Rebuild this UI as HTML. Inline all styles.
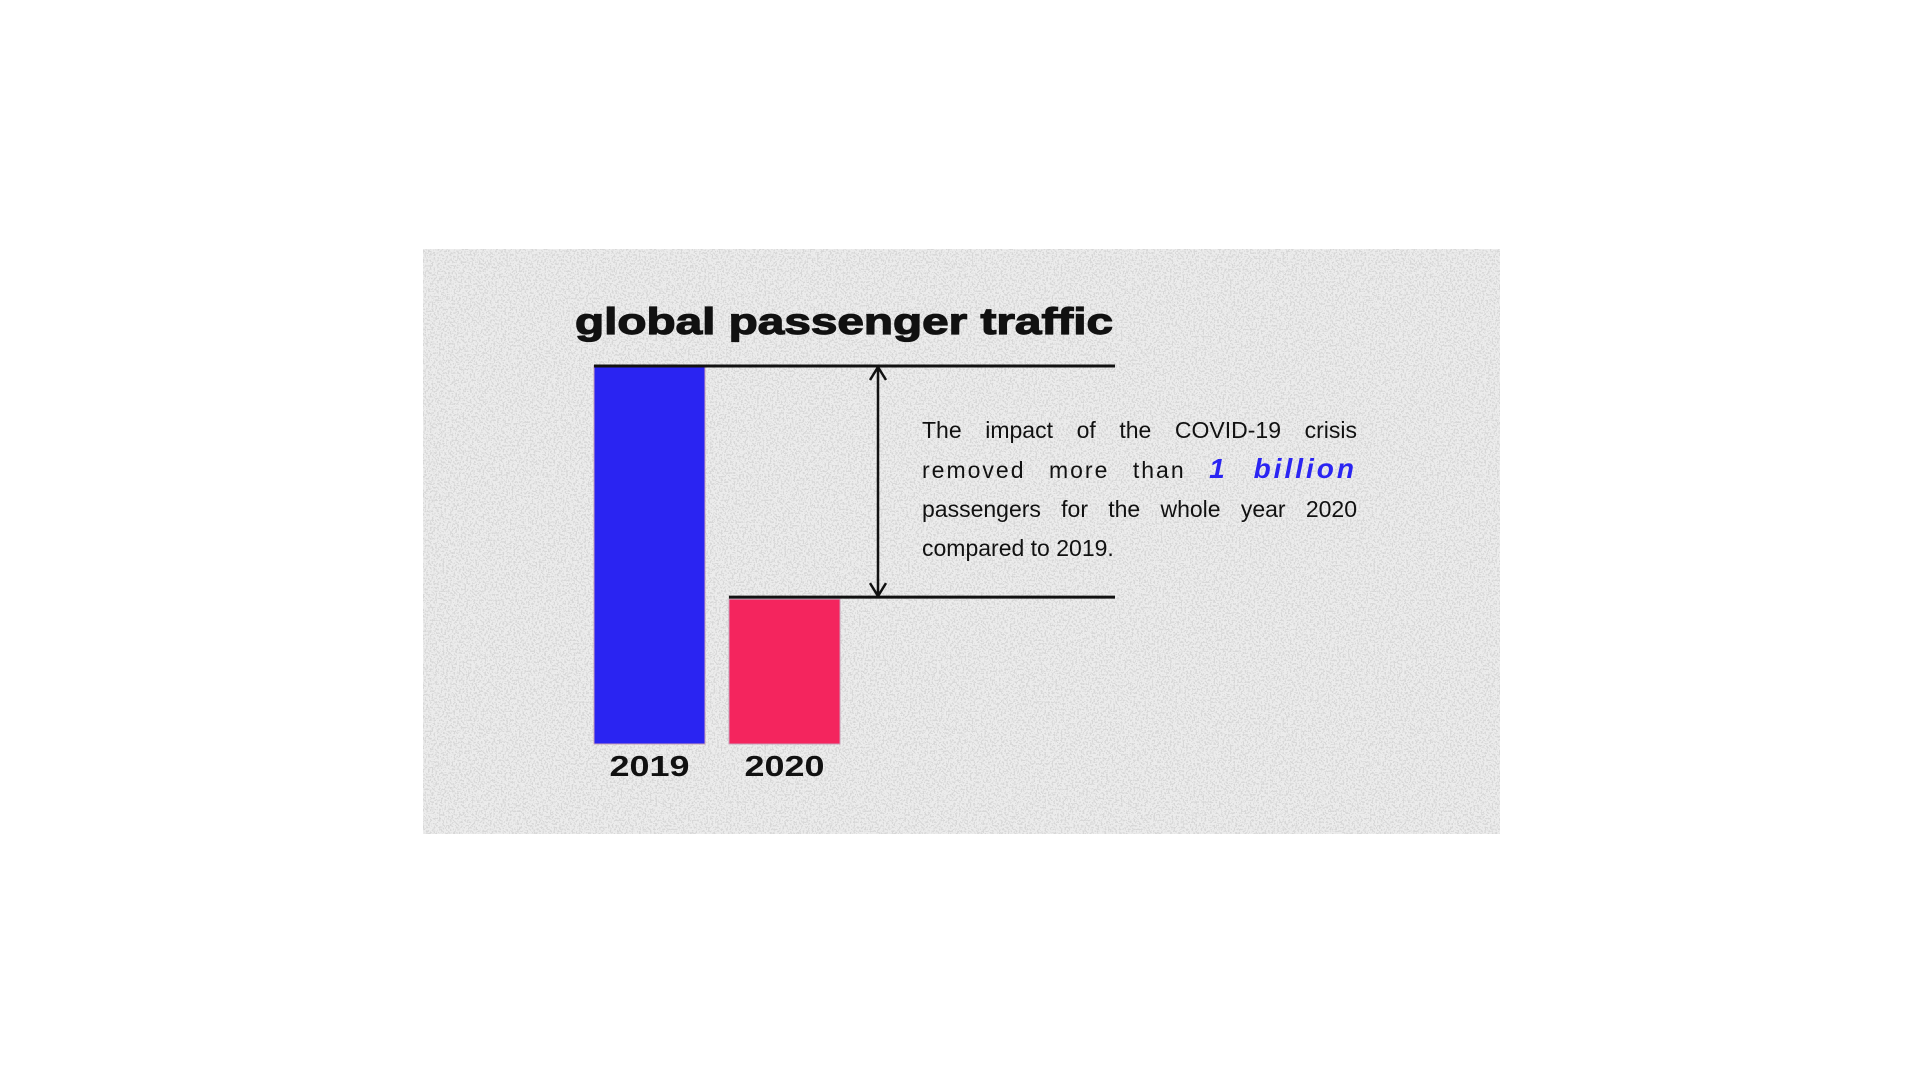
<!DOCTYPE html>
<html><head><meta charset="utf-8">
<style>
html,body{margin:0;padding:0;background:#fff;}
body{width:1920px;height:1080px;position:relative;overflow:hidden;font-family:"Liberation Sans",sans-serif;}
#panel{position:absolute;left:423px;top:249px;width:1077px;height:585px;}
.line{position:absolute;font-size:23px;color:#111;width:435px;left:922px;text-align:justify;text-align-last:justify;white-space:nowrap;}
</style></head>
<body>
<svg id="panel" width="1077" height="585">
<defs><filter id="nz" x="0" y="0" width="100%" height="100%">
<feTurbulence type="fractalNoise" baseFrequency="0.55" numOctaves="2" seed="3"/>
<feColorMatrix type="matrix" values="0 0 0 0 0.68  0 0 0 0 0.68  0 0 0 0 0.68  14 0 0 0 -7.2"/>
</filter></defs>
<rect width="1077" height="585" fill="#ececec"/>
<rect width="1077" height="585" filter="url(#nz)"/>
</svg>
<svg id="chart" width="1920" height="1080" style="position:absolute;left:0;top:0">
<text x="575" y="334" font-family="Liberation Sans" font-weight="900" font-size="37" fill="#111" stroke="#111" stroke-width="1.2" textLength="538" lengthAdjust="spacingAndGlyphs">global passenger traffic</text>
<g id="bars"></g>
</svg>
<div class="line" style="top:417px">The impact of the COVID-19 crisis</div>
<div class="line" style="top:453px;letter-spacing:2px">removed more than <b style="color:#2a24f2;font-style:italic;font-size:28px;letter-spacing:3px">1 billion</b></div>
<div class="line" style="top:496px">passengers for the whole year 2020</div>
<div class="line" style="top:535px;text-align-last:left">compared to 2019.</div>
<script>
const categories = ["2019", "2020"];
const values = [4.54, 1.74];
const colors = ["#2a24f2", "#f4255e"];
const NS = "http://www.w3.org/2000/svg";
const baseY = 744, topY = 366, maxV = values[0];
function y(v){ return baseY - v * (baseY - topY) / maxV; }
const barX0 = 594, barW = 111, step = 135;
function x(i){ return barX0 + i * step; }
const g = document.getElementById("bars");
function mk(tag, attrs){ const e = document.createElementNS(NS, tag); for (const k in attrs) e.setAttribute(k, attrs[k]); g.appendChild(e); return e; }
categories.forEach((c, i) => {
  const r = mk("rect", {x: x(i), y: y(values[i]), width: barW, height: baseY - y(values[i]), fill: colors[i], stroke: "#c8a0b8", "stroke-width": 1});
  
  
  const t = mk("text", {x: x(i) + barW / 2, y: 776, "text-anchor": "middle", "font-family": "Liberation Sans", "font-weight": "bold", "font-size": 29, fill: "#111", textLength: 80, lengthAdjust: "spacingAndGlyphs"});
  t.textContent = c;
  
  
});
const lineEnd = 1115;
const l1 = mk("line", {x1: x(0), x2: lineEnd, y1: y(values[0]), y2: y(values[0]), stroke: "#111", "stroke-width": 3});


const l2 = mk("line", {x1: x(1), x2: lineEnd, y1: y(values[1]) - 2, y2: y(values[1]) - 2, stroke: "#111", "stroke-width": 3});


const ax = 878, a1 = y(values[0]) + 1, a2 = y(values[1]) - 3;
const arr = mk("path", {d: `M${ax},${a1} V${a2} M${ax-8},${a1+13} L${ax},${a1} L${ax+8},${a1+13} M${ax-8},${a2-13} L${ax},${a2} L${ax+8},${a2-13}`, stroke: "#111", "stroke-width": 2.5, fill: "none"});


</script>
</body></html>
